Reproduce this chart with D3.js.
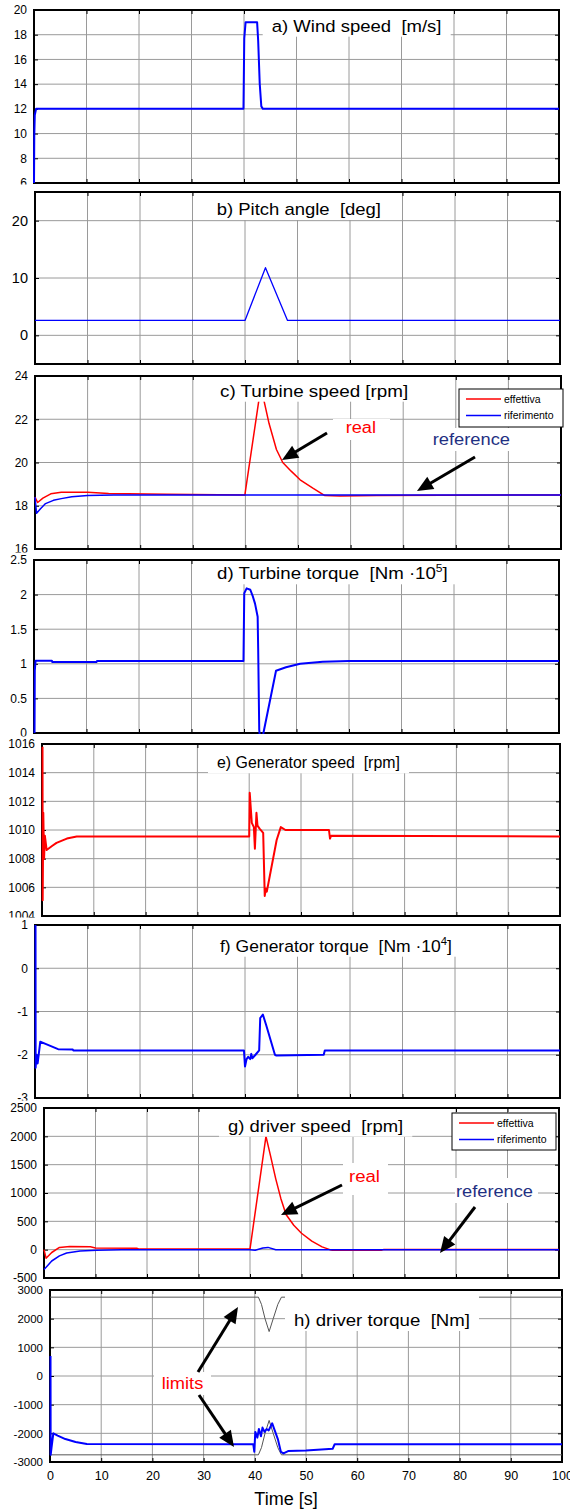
<!DOCTYPE html>
<html>
<head>
<meta charset="utf-8">
<script src="https://cdn.jsdelivr.net/npm/d3@7"></script>
<style>
body { margin: 0; background: #fff; }
text { font-family: "Liberation Sans", Arial, sans-serif; }
</style>
</head>
<body>
<div id="chart"></div>
<script>
var timeTicks = [0, 10, 20, 30, 40, 50, 60, 70, 80, 90, 100];

// a) wind speed [m/s]
var windTicks = [6, 8, 10, 12, 14, 16, 18, 20];
var windSpeed = [[0, 6], [0.05, 9.8], [0.15, 11.5], [0.4, 12], [39.9, 12], [40.05, 17.7], [40.3, 19], [42.5, 19],
	[42.7, 17.5], [43.0, 14], [43.3, 12.2], [43.6, 12], [100, 12]];

// b) pitch angle [deg]
var pitchTicks = [0, 10, 20];
var pitchAngle = [[0, 2.6], [40, 2.6], [43.9, 11.8], [48.1, 2.6], [100, 2.6]];

// c) turbine speed [rpm]
var turbineSpeedTicks = [16, 18, 20, 22, 24];
var turbineSpeedReal = [[0, 18.4], [0.5, 18.15], [1.5, 18.35], [3, 18.55], [5, 18.62], [10, 18.62], [14, 18.57],
	[25, 18.53], [39.9, 18.5], [43.0, 23.6], [43.5, 22.9], [44.5, 21.8], [45.9, 20.6], [47.1, 20.0], [48.7, 19.6],
	[50.4, 19.2], [52.9, 18.8], [55.1, 18.47], [58, 18.45], [65, 18.47], [100, 18.5]];
var turbineSpeedRef = [[0, 18.4], [0.3, 17.65], [1, 17.85], [2, 18.1], [3.5, 18.25], [5, 18.33], [7, 18.42],
	[10, 18.47], [15, 18.5], [100, 18.5]];

// d) turbine torque [Nm 10^5]
var turbineTorqueTicks = [0, 0.5, 1, 1.5, 2, 2.5];
var turbineTorque = [[0.1, 0], [0.15, 0.9], [0.3, 1.045], [3.4, 1.045], [3.5, 1.025], [11.9, 1.025], [12, 1.04],
	[39.9, 1.04], [40.05, 2.02], [40.5, 2.09], [41.2, 2.07], [41.7, 1.97], [42.1, 1.87], [42.6, 1.68], [42.7, 1.22],
	[42.9, 0.05], [43.3, -0.3], [43.7, 0], [46.1, 0.9], [48, 0.95], [50.7, 1.0], [55, 1.03], [60, 1.04], [100, 1.04]];

// e) generator speed [rpm]
var genSpeed = [[0.1, 1015.8], [0.13, 1005.1], [0.25, 1011.2], [0.4, 1008], [0.55, 1009.6], [0.9, 1008.6], [2, 1008.9],
	[2.8, 1009.1], [4.8, 1009.4], [6.7, 1009.55], [40, 1009.55], [40.1, 1012.6], [40.5, 1010.5], [40.9, 1010.2],
	[41.1, 1008.7], [41.4, 1011.2], [41.6, 1010.3], [42, 1010.1], [42.7, 1009.8], [43.0, 1005.4], [43.2, 1005.9],
	[43.4, 1005.7], [45.3, 1009.3], [46.1, 1010.2], [47, 1010.0], [55.4, 1010.0], [55.6, 1009.4], [55.8, 1009.6],
	[100, 1009.55]];
var genSpeedTicks = [1004, 1006, 1008, 1010, 1012, 1014, 1016];

// f) generator torque [Nm 10^4]
var genTorqueTicks = [-3, -2, -1, 0, 1];
var genTorque = [[0.1, 1], [0.12, -2.3], [0.3, -2.0], [0.5, -2.2], [1.0, -1.7], [2, -1.75], [4.4, -1.87], [7.2, -1.88],
	[7.3, -1.9], [39.8, -1.9], [40, -2.27], [40.3, -2.1], [40.6, -2.05], [41.0, -2.1], [41.2, -1.98], [41.4, -2.08],
	[42.0, -2.0], [42.7, -1.9], [42.9, -1.15], [43.4, -1.07], [44, -1.3], [45.7, -2.0], [46, -2.02], [55, -2.0],
	[55.2, -1.9], [100, -1.9]];

// g) driver speed [rpm]
var driverSpeedTicks = [-500, 0, 500, 1000, 1500, 2000, 2500];
var driverSpeedReal = [[0, 0], [0.4, -150], [1.5, -50], [3, 40], [5, 55], [9, 50], [10, 30], [18, 25], [18.5, 10],
	[40, 10], [43.1, 2000], [44, 1650], [45, 1250], [46, 900], [47, 620], [48.5, 430], [50, 290], [52, 150], [54, 50],
	[55.5, 0], [56, -10], [65.5, -10], [66, 5], [100, 5]];
var driverSpeedRef = [[0, -350], [0.5, -300], [1.5, -200], [3, -110], [4.4, -60], [7, -25], [10.2, -10], [15, 0],
	[40, 0], [41, -10], [42.5, 30], [43.5, 40], [45, 0], [100, 0]];

// h) driver torque [Nm]
var driverTorqueTicks = [-3000, -2000, -1000, 0, 1000, 2000, 3000];
var driverTorque = [[0.1, 700], [0.13, -2750], [0.3, -2500], [0.65, -2000], [1.5, -2080], [3, -2200], [5, -2300],
	[7.2, -2370], [39.7, -2380], [39.9, -2640], [40.1, -1950], [40.5, -2150], [40.8, -1850], [41.2, -2100],
	[41.5, -1800], [41.9, -1950], [42.3, -1850], [42.7, -1900], [43.4, -1650], [44.5, -2200], [45.1, -2650],
	[45.6, -2700], [46.5, -2620], [50, -2600], [53, -2560], [55.2, -2540], [55.6, -2380], [100, -2380]];
var torqueLimitUp = [[0, 2750], [40.7, 2750], [41.3, 2500], [42, 2000], [42.8, 1550], [43.6, 2000], [44.5, 2500],
	[45.2, 2750], [100, 2750]];
var torqueLimitLow = [[0, -2750], [40.7, -2750], [41.3, -2500], [42, -2000], [42.8, -1550], [43.6, -2000],
	[44.5, -2500], [45.2, -2750], [100, -2750]];

var legendLabels = ["effettiva", "riferimento"];

var svg;
var RED = "#ff0000", BLUE = "#0000ff", NAVY = "#1f3082";

var panels = [
	{left: 34, right: 559, top: 10, bottom: 183, domain: [6, 20], ticks: windTicks, font: 12,
		series: [{data: windSpeed, color: BLUE, width: 2}],
		title: {parts: [{t: "a) Wind speed  [m/s]"}], x0: 271.7, x1: 441.7, y: 31.7}},
	{left: 35, right: 560, top: 192, bottom: 364, domain: [-5, 25], ticks: pitchTicks, font: 14.5,
		series: [{data: pitchAngle, color: BLUE, width: 1.3}],
		title: {parts: [{t: "b) Pitch angle  [deg]"}], x0: 216.7, x1: 381, y: 215}},
	{left: 35, right: 561, top: 376, bottom: 549, domain: [16, 24], ticks: turbineSpeedTicks, font: 12,
		series: [{data: turbineSpeedReal, color: RED, width: 1.5}, {data: turbineSpeedRef, color: BLUE, width: 1.5}],
		title: {parts: [{t: "c) Turbine speed [rpm]"}], x0: 220, x1: 408.3, y: 396.7},
		legend: {x: 459, y: 389, w: 104, h: 38}},
	{left: 34, right: 559, top: 560, bottom: 733, domain: [0, 2.5], ticks: turbineTorqueTicks, font: 12,
		series: [{data: turbineTorque, color: BLUE, width: 2}],
		title: {parts: [{t: "d) Turbine torque  [Nm \u00b710"}, {t: "5", sup: true}, {t: "]"}], x0: 217, x1: 448, y: 579.3}},
	{left: 42, right: 560, top: 744, bottom: 916, domain: [1004, 1016], ticks: genSpeedTicks, font: 12,
		series: [{data: genSpeed, color: RED, width: 2}],
		title: {parts: [{t: "e) Generator speed  [rpm]"}], x0: 217, x1: 400, y: 768.3}},
	{left: 35, right: 560, top: 925, bottom: 1098, domain: [-3, 1], ticks: genTorqueTicks, font: 12,
		series: [{data: genTorque, color: BLUE, width: 2}],
		title: {parts: [{t: "f) Generator torque  [Nm \u00b710"}, {t: "4", sup: true}, {t: "]"}], x0: 220, x1: 452, y: 951.7}},
	{left: 44, right: 559, top: 1108, bottom: 1278, domain: [-500, 2500], ticks: driverSpeedTicks, font: 12,
		series: [{data: driverSpeedReal, color: RED, width: 1.5}, {data: driverSpeedRef, color: BLUE, width: 1.5}],
		title: {parts: [{t: "g) driver speed  [rpm]"}], x0: 228, x1: 403.3, y: 1131.7},
		legend: {x: 452, y: 1113, w: 104, h: 37}},
	{left: 50, right: 562, top: 1290, bottom: 1462, domain: [-3000, 3000], ticks: driverTorqueTicks, font: 11.5,
		series: [{data: torqueLimitUp, color: "#555", width: 1}, {data: torqueLimitLow, color: "#555", width: 1},
			{data: driverTorque, color: BLUE, width: 2}],
		title: {parts: [{t: "h) driver torque  [Nm]"}], x0: 294, x1: 470, y: 1326},
		xLabels: true}
];

var notes = [
	{text: "real", color: RED, x0: 345.7, x1: 376, y: 433.3, size: 16, box: [333, 419, 390, 440]},
	{text: "reference", color: NAVY, x0: 432.7, x1: 510, y: 445, size: 17, box: [425, 428, 517, 451]},
	{text: "real", color: RED, x0: 349, x1: 380, y: 1181.7, size: 16, box: [343, 1163, 388, 1195]},
	{text: "reference", color: NAVY, x0: 456, x1: 533, y: 1196.7, size: 17, box: [455, 1178, 538, 1203]},
	{text: "limits", color: RED, x0: 161.7, x1: 203.3, y: 1389.3, size: 16, box: [154, 1372, 211, 1395]}
];

var arrows = [
	[[327, 433], [282, 460]],
	[[475, 457], [417, 491]],
	[[342, 1185], [281, 1215]],
	[[475, 1207], [440, 1253]],
	[[198, 1372], [238, 1307]],
	[[199, 1395], [234, 1447]]
];

function onLoad() {
	svg = d3.select("#chart")
	.append("svg")
	.attr("width", 570)
	.attr("height", 1512);

	panels.forEach(function (p, i) { drawPanel(p, i); });
	notes.forEach(drawNote);
	arrows.forEach(function (a) { drawArrow(a[0], a[1]); });

	// x axis label
	svg.append("text")
	.attr("x", 286)
	.attr("y", 1505)
	.attr("text-anchor", "middle")
	.style("font-size", "18px")
	.text("Time [s]");
}

////////////////////////////////////////////
////////////DRAWING/////////////////////////
////////////////////////////////////////////

function drawPanel(p, i) {
	var x = d3.scaleLinear().domain([0, 100]).range([p.left, p.right]);
	var y = d3.scaleLinear().domain(p.domain).range([p.bottom, p.top]);
	var g = svg.append("g");

	// each axes sits on its own white figure strip, which hides the
	// lower part of the previous panel's bottom tick label
	if (i > 0) {
		g.append("rect")
		.attr("x", 0).attr("y", p.top - 7.5)
		.attr("width", 570).attr("height", 7.5)
		.attr("fill", "#fff");
	}

	// grid
	g.selectAll(".vg").data(timeTicks.slice(1, -1)).enter().append("line")
	.attr("x1", function (d) { return x(d); }).attr("x2", function (d) { return x(d); })
	.attr("y1", p.top).attr("y2", p.bottom)
	.attr("stroke", "#9a9a9a").attr("stroke-width", 1);
	g.selectAll(".hg").data(p.ticks.filter(function (d) { return d > p.domain[0] && d < p.domain[1]; })).enter().append("line")
	.attr("y1", function (d) { return y(d); }).attr("y2", function (d) { return y(d); })
	.attr("x1", p.left).attr("x2", p.right)
	.attr("stroke", "#9a9a9a").attr("stroke-width", 1);

	// axes: ticks inward on all four sides
	var fmt = function (d) { return String(d); };
	var yAxisL = d3.axisLeft(y).tickValues(p.ticks).tickSizeInner(-4).tickSizeOuter(0).tickPadding(7).tickFormat(fmt);
	var yAxisR = d3.axisRight(y).tickValues(p.ticks).tickSizeInner(-4).tickSizeOuter(0).tickFormat("");
	var xAxisB = d3.axisBottom(x).tickValues(timeTicks).tickSizeInner(-4).tickSizeOuter(0).tickPadding(9).tickFormat(fmt);
	var xAxisT = d3.axisTop(x).tickValues(timeTicks).tickSizeInner(-4).tickSizeOuter(0).tickFormat("");
	if (!p.xLabels) xAxisB.tickFormat("");

	var ax = g.append("g");
	var gl = ax.append("g").attr("transform", "translate(" + p.left + ",0)").call(yAxisL);
	gl.selectAll("text").style("font-size", p.font + "px").attr("fill", "#000");
	ax.append("g").attr("transform", "translate(" + p.right + ",0)").call(yAxisR);
	var gb = ax.append("g").attr("transform", "translate(0," + p.bottom + ")").call(xAxisB);
	gb.selectAll("text").style("font-size", "12.5px").attr("fill", "#000");
	ax.append("g").attr("transform", "translate(0," + p.top + ")").call(xAxisT);
	ax.selectAll(".domain").remove();
	ax.selectAll(".tick line").attr("stroke", "#000");

	ax.append("rect")
	.attr("x", p.left).attr("y", p.top)
	.attr("width", p.right - p.left).attr("height", p.bottom - p.top)
	.attr("fill", "none").attr("stroke", "#000").attr("stroke-width", 2);

	// series, drawn over the box like matlab does
	svg.append("clipPath").attr("id", "clip" + i)
	.append("rect").attr("x", p.left - 1).attr("y", p.top - 1)
	.attr("width", p.right - p.left + 2).attr("height", p.bottom - p.top + 2);

	var line = d3.line().x(function (d) { return x(d[0]); }).y(function (d) { return y(d[1]); });
	p.series.forEach(function (s) {
		g.append("path")
		.attr("d", line(s.data))
		.attr("clip-path", "url(#clip" + i + ")")
		.attr("fill", "none")
		.attr("stroke", s.color)
		.attr("stroke-width", s.width)
		.attr("stroke-linejoin", "round");
	});

	// title with white box
	var box = g.append("rect").attr("fill", "#fff");
	var t = g.append("text").style("font-size", "17px").style("white-space", "pre");
	p.title.parts.forEach(function (part) {
		var ts = t.append("tspan").text(part.t);
		if (part.sup) ts.style("font-size", "11px").attr("dy", -7);
		else if (t.selectAll("tspan").size() > 1) ts.attr("dy", 7);
	});
	var w = t.node().getBBox().width;
	var k = (p.title.x1 - p.title.x0) / w;
	t.attr("transform", "translate(" + p.title.x0 + "," + p.title.y + ") scale(" + k + ",1)");
	box.attr("x", p.title.x0 - 9).attr("y", p.top + 1)
	.attr("width", p.title.x1 - p.title.x0 + 18).attr("height", p.title.y + 4 - p.top);

	if (p.legend) drawLegend(g, p.legend);
}

function drawLegend(g, l) {
	g.append("rect")
	.attr("x", l.x).attr("y", l.y).attr("width", l.w).attr("height", l.h)
	.attr("fill", "#fff").attr("stroke", "#000").attr("stroke-width", 1);
	var colors = [RED, BLUE];
	legendLabels.forEach(function (lab, j) {
		var yy = l.y + 10 + j * 16.5;
		g.append("line")
		.attr("x1", l.x + 7).attr("x2", l.x + 42).attr("y1", yy).attr("y2", yy)
		.attr("stroke", colors[j]).attr("stroke-width", 1.5);
		g.append("text")
		.attr("x", l.x + 45).attr("y", yy + 3.5)
		.style("font-size", "10.5px")
		.text(lab);
	});
}

function drawNote(n) {
	svg.append("rect")
	.attr("x", n.box[0]).attr("y", n.box[1])
	.attr("width", n.box[2] - n.box[0]).attr("height", n.box[3] - n.box[1])
	.attr("fill", "#fff");
	svg.append("text")
	.attr("x", n.x0).attr("y", n.y)
	.attr("fill", n.color)
	.attr("textLength", n.x1 - n.x0)
	.attr("lengthAdjust", "spacingAndGlyphs")
	.style("font-size", n.size + "px")
	.text(n.text);
}

function drawArrow(from, to) {
	var dx = to[0] - from[0], dy = to[1] - from[1];
	var len = Math.sqrt(dx * dx + dy * dy);
	var ux = dx / len, uy = dy / len;
	var head = 16, half = 7;
	var bx = to[0] - ux * head, by = to[1] - uy * head;
	svg.append("line")
	.attr("x1", from[0]).attr("y1", from[1])
	.attr("x2", bx + ux * 2).attr("y2", by + uy * 2)
	.attr("stroke", "#000").attr("stroke-width", 3);
	svg.append("polygon")
	.attr("points", [to, [bx - uy * half, by + ux * half], [bx + uy * half, by - ux * half]]
		.map(function (pt) { return pt.join(","); }).join(" "))
	.attr("fill", "#000");
}

onLoad();
</script>
</body>
</html>
